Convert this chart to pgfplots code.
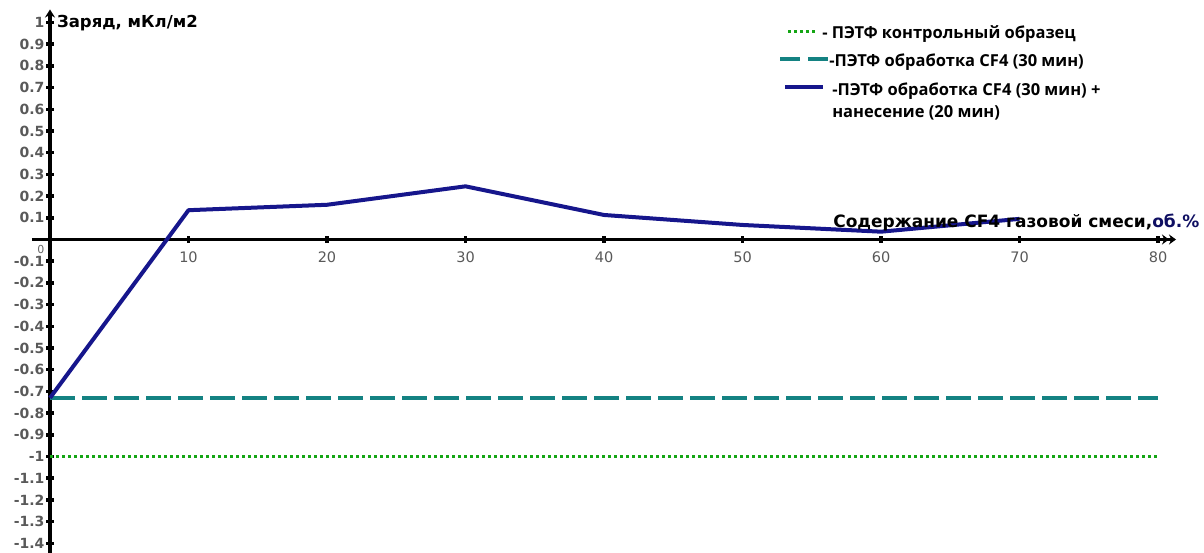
\documentclass[border=0pt]{standalone}
\usepackage{fontspec}
\setmainfont{DejaVu Sans}
\newfontfamily\legfont{Open Sans}
\usepackage{pgfplots}
\pgfplotsset{compat=1.18}
\usetikzlibrary{arrows.meta}

\definecolor{cgreen}{RGB}{20,165,20}
\definecolor{cteal}{RGB}{20,130,130}
\definecolor{cnavy}{RGB}{22,22,140}

\begin{document}
\begin{tikzpicture}
\path[use as bounding box] (-50pt,-313.5pt) rectangle (1154pt,239.5pt);
\begin{axis}[
  at={(0pt,0pt)}, anchor=origin,
  x=13.85pt, y=217pt,
  axis lines=middle,
  xmin=-1.3, xmax=81.3, ymin=-1.45, ymax=1.06,
  clip=false,
  axis line style={line width=3.7pt, black},
  x axis line style={-{Stealth[length=7pt,width=10pt]Stealth[length=7pt,width=10pt]}},
  y axis line style={-{Stealth[length=8pt,width=10pt]}},
  xtick={10,20,30,40,50,60,70,80},
  ytick={-1.4,-1.3,-1.2,-1.1,-1,-0.9,-0.8,-0.7,-0.6,-0.5,-0.4,-0.3,-0.2,-0.1,0.1,0.2,0.3,0.4,0.5,0.6,0.7,0.8,0.9,1},
  yticklabels={-1.4,-1.3,-1.2,-1.1,-1,-0.9,-0.8,-0.7,-0.6,-0.5,-0.4,-0.3,-0.2,-0.1,0.1,0.2,0.3,0.4,0.5,0.6,0.7,0.8,0.9,1},
  xticklabels={10,20,30,40,50,60,70,80},
  major tick length=7pt,
  tick align=center,
  tick style={black, line width=3.5pt},
  xticklabel style={font=\fontsize{14.5}{14.5}\selectfont, text=black!65, yshift=-5pt},
  yticklabel style={font=\bfseries\fontsize{14}{14}\selectfont, text=black!65, xshift=1.5pt},
  legend style={at={(0.6539,0.974)}, anchor=north west, draw=none, fill=none,
    inner sep=0pt, row sep=10pt, column sep=0pt,
    font=\legfont\bfseries\fontsize{16.5}{22}\selectfont,
    nodes={align=left, inner sep=2pt}},
  legend cell align=left,
]
\addplot[cgreen, line width=3pt, dash pattern=on 3pt off 3pt,
  legend image code/.code={\path[draw=none] (0pt,2pt) -- (40pt,2pt);
    \draw[overlay, cgreen, line width=3pt, dash pattern=on 3pt off 3pt] (8pt,2pt) -- (37pt,2pt);}]
  coordinates {(0,-1) (80,-1)};
\addlegendentry{- ПЭТФ контрольный образец}
\addplot[cteal, line width=4pt, dash pattern=on 25pt off 7pt,
  legend image code/.code={\path[draw=none] (0pt,2pt) -- (40pt,2pt);
    \draw[overlay, cteal, line width=4pt, dash pattern=on 20pt off 8pt] (0pt,2pt) -- (48pt,2pt);}]
  coordinates {(0,-0.73) (80,-0.73)};
\addlegendentry{\hspace{7pt}-ПЭТФ обработка CF4 (30 мин)}
\addplot[cnavy, line width=4pt, line join=round,
  legend image code/.code={\path[draw=none] (0pt,2pt) -- (40pt,2pt);
    \draw[overlay, cnavy, line width=4pt] (5pt,13.5pt) -- (43pt,13.5pt);}]
  coordinates {(0,-0.73) (10,0.135) (20,0.16) (30,0.245) (40,0.113) (50,0.067) (60,0.036) (70,0.095)};
\addlegendentry{\hspace{10pt}-ПЭТФ обработка CF4 (30 мин) +\\\hspace{10pt}нанесение (20 мин)}
\node[anchor=west, inner sep=0pt, font=\bfseries\fontsize{16.5}{16.5}\selectfont] at (axis cs:0.5,0.997) {Заряд, мКл/м2};
\node[anchor=east, inner sep=0pt, font=\bfseries\fontsize{17}{17}\selectfont] at (axis cs:83.0,0.08) {Содержание CF4 газовой смеси,\textcolor{cnavy!70!black}{об.\%}};
\node[inner sep=0pt, font=\fontsize{11}{11}\selectfont, text=black!60] at (axis cs:-0.65,-0.045) {0};
\end{axis}
\end{tikzpicture}
\end{document}
